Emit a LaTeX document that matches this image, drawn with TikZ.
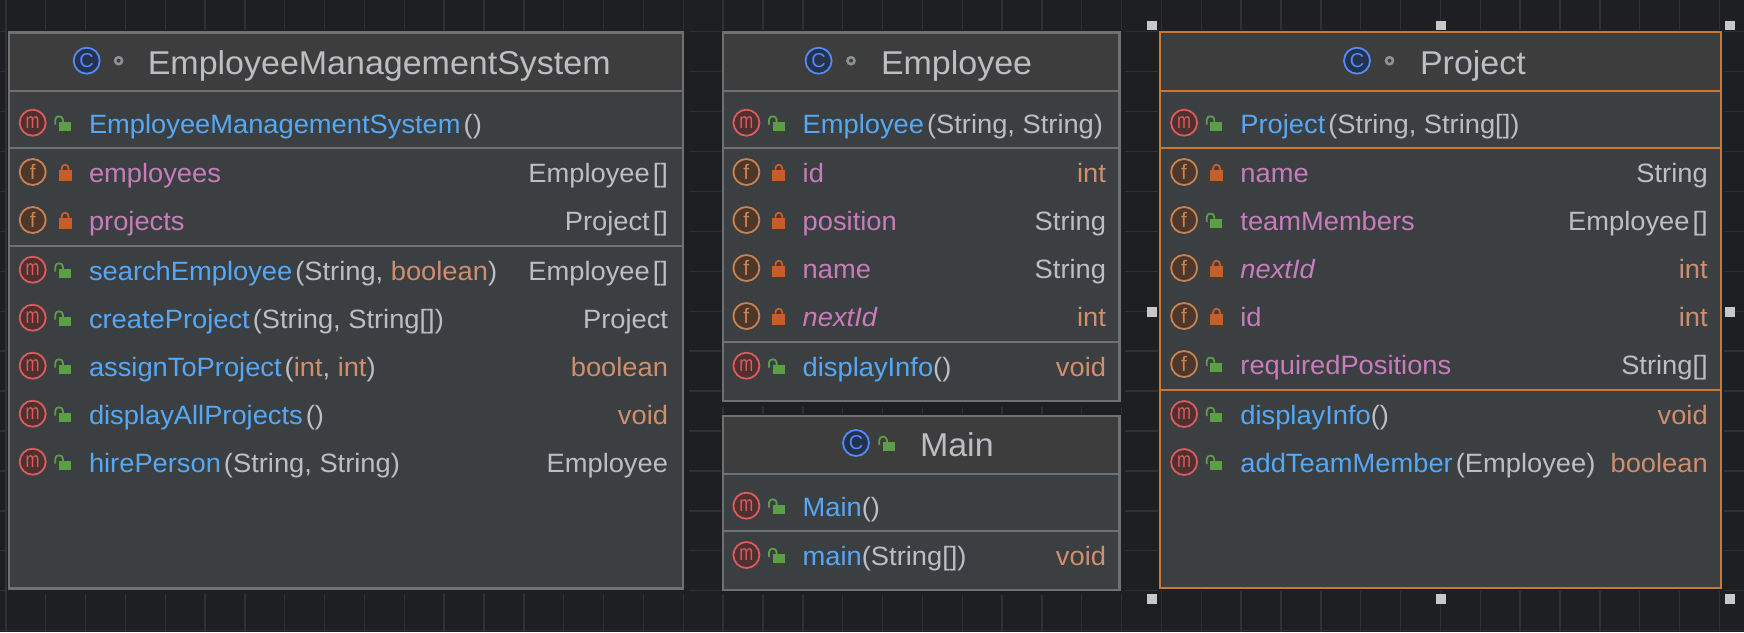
\documentclass[tikz,border=0pt]{standalone}
\usepackage{fontspec}
\usepackage{graphicx}
\setmainfont[FakeStretch=1.03]{Liberation Sans}
\newfontfamily\iconfont{Liberation Sans}
\definecolor{bgdark}{HTML}{1E1F22}
\definecolor{gridline}{HTML}{2F3033}
\definecolor{bodyfill}{HTML}{3C3F41}
\definecolor{headfill}{HTML}{3D3D3D}
\definecolor{edgegray}{HTML}{6F7072}
\definecolor{edgeorange}{HTML}{C87A32}
\definecolor{nameblue}{HTML}{56A8F5}
\definecolor{fieldpink}{HTML}{C77DBB}
\definecolor{kworange}{HTML}{CF8E6D}
\definecolor{typegray}{HTML}{BCBEC4}
\definecolor{handlegray}{HTML}{C8C8C8}
\definecolor{lockgreen}{HTML}{5A9E45}
\definecolor{lockorange}{HTML}{C75E28}
\definecolor{dotgray}{HTML}{8A9296}
\definecolor{mstroke}{HTML}{DB5C5C}
\definecolor{mfill}{HTML}{4F2F2F}
\definecolor{fstroke}{HTML}{C78354}
\definecolor{ffill}{HTML}{4D362A}
\definecolor{cstroke}{HTML}{548AF7}
\definecolor{cfill}{HTML}{25324D}
\newcommand{\rowfont}{\fontsize{26.5}{30}\selectfont}
\newcommand{\headfont}{\fontsize{33}{38}\selectfont}
\newcommand{\kw}[1]{\textcolor{kworange}{#1}}
\newcommand{\nm}[1]{\textcolor{nameblue}{#1}}
\newcommand{\gp}{\hspace{3pt}}
\tikzset{
  x=1pt,y=-1pt,
  gridrule/.style={draw=gridline,line width=1.4pt},
  halo/.style={fill=bgdark,draw=none},
  boxbody/.style={draw=edgegray,fill=bodyfill,line width=2.4pt,rectangle,anchor=north west,inner sep=0pt,outer sep=0pt},
  boxhead/.style={draw=edgegray,fill=headfill,line width=2.4pt,rectangle,anchor=north west,inner sep=0pt,outer sep=0pt},
  chosen/.style={draw=edgeorange,line width=2pt},
  sep/.style={draw=edgegray,line width=2.4pt},
  sepchosen/.style={draw=edgeorange,line width=2pt},
  rowleft/.style={anchor=base west,inner sep=0pt,outer sep=0pt,font=\rowfont,text=typegray},
  rowright/.style={anchor=base east,inner sep=0pt,outer sep=0pt,font=\rowfont,text=typegray},
  headtext/.style={anchor=base west,inner sep=0pt,outer sep=0pt,font=\headfont,text=typegray},
  badge/.style={circle,inner sep=0pt,outer sep=0pt,minimum size=26pt,line width=1.8pt},
  badgem/.style={badge,draw=mstroke,fill=mfill,text=mstroke},
  badgef/.style={badge,draw=fstroke,fill=ffill,text=fstroke},
  badgec/.style={badge,draw=cstroke,fill=cfill,text=cstroke},
  handle/.style={fill=handlegray,draw=none,rectangle,minimum size=9.6pt,inner sep=0pt,outer sep=0pt},
  pkgdot/.style={circle,draw=dotgray,fill=headfill,line width=2.6pt,minimum size=7pt,inner sep=0pt,outer sep=0pt}
}
\newcommand{\greenlock}[2]{%
  \begin{scope}[shift={(#1,#2)}]
    \fill[lockgreen] (3.5,-1) rectangle (15.5,8.2);
    \draw[lockgreen,line width=1.8pt] (0,2) -- (0,-3) .. controls (0,-7.5) and (7.6,-7.5) .. (7.6,-3) -- (7.6,0);
  \end{scope}}
\newcommand{\orangelock}[2]{%
  \begin{scope}[shift={(#1,#2)}]
    \fill[lockorange] (0,-2) rectangle (12.8,8.7);
    \draw[lockorange,line width=1.8pt] (3,-1) -- (3,-3.5) .. controls (3,-8.6) and (9.8,-8.6) .. (9.8,-3.5) -- (9.8,-1);
  \end{scope}}
\newcommand{\mbadge}[3]{\node[badgem] (#1) at (#2,#3) {\iconfont\fontsize{22}{22}\selectfont\scalebox{0.76}[1]{m}};}
\newcommand{\fbadge}[3]{\node[badgef] (#1) at (#2,#3) {\iconfont\fontsize{21}{21}\selectfont f};}
\newcommand{\cbadge}[3]{\node[badgec] (#1) at (#2,#3) {\iconfont\fontsize{20}{20}\selectfont C};}
% id, lock g/o, y, left text, right text
\newcommand{\rowm}[5]{%
  \mbadge{#1-b}{\curL+23.7}{#3}%
  \ifx g#2\relax\greenlock{\curL+46.3}{#3}\else\orangelock{\curL+49.7}{#3}\fi
  \node[rowleft] (#1-n) at (\curL+80,#3+10.7) {#4};
  \node[rowright] (#1-t) at (\curR,#3+10.7) {#5};}
\newcommand{\rowf}[5]{%
  \fbadge{#1-b}{\curL+23.7}{#3}%
  \ifx g#2\relax\greenlock{\curL+46.3}{#3}\else\orangelock{\curL+49.7}{#3}\fi
  \node[rowleft] (#1-n) at (\curL+80,#3+10.7) {#4};
  \node[rowright] (#1-t) at (\curR,#3+10.7) {#5};}
\begin{document}
\begin{tikzpicture}
\useasboundingbox (0,0) rectangle (1744,632);
\fill[bgdark] (0,0) rectangle (1744,632);
% grid
\foreach \k in {0,...,43}{\draw[gridrule] (5.8+39.85*\k,0) -- (5.8+39.85*\k,632);}
\foreach \k in {0,...,15}{\draw[gridrule] (0,31.7+39.93*\k) -- (1744,31.7+39.93*\k);}
% shadows
\fill[halo] (7,30) rectangle (688.5,594);
\fill[halo] (720.5,30) rectangle (1124.5,407);
\fill[halo] (720.5,414) rectangle (1124.5,595);
\fill[halo] (1158,30) rectangle (1724,591);
% EmployeeManagementSystem
\def\curL{9}\def\curR{668}
\node[boxbody,minimum width=673.7pt,minimum height=556.3pt] (ems) at (9,32.3) {};
\node[boxhead,minimum width=673.7pt,minimum height=58.4pt] (emshead) at (9,32.3) {};
\draw[sep] (ems.west |- 0,147.7) -- (ems.east |- 0,147.7);
\draw[sep] (ems.west |- 0,245.7) -- (ems.east |- 0,245.7);
\cbadge{emsC}{86.7}{60.7}
\node[pkgdot] (emsD) at (118.6,60.7) {};
\node[headtext] (emsT) at (147.8,74) {EmployeeManagementSystem};
\rowm{e1}{g}{122.7}{\nm{EmployeeManagementSystem}\gp()}{}
\rowf{e2}{o}{172}{\textcolor{fieldpink}{employees}}{Employee\gp[]}
\rowf{e3}{o}{220}{\textcolor{fieldpink}{projects}}{Project\gp[]}
\rowm{e4}{g}{269.7}{\nm{searchEmployee}\gp(String, \kw{boolean})}{Employee\gp[]}
\rowm{e5}{g}{317.7}{\nm{createProject}\gp(String, String[])}{Project}
\rowm{e6}{g}{365.7}{\nm{assignToProject}\gp(\kw{int}, \kw{int})}{\kw{boolean}}
\rowm{e7}{g}{413.7}{\nm{displayAllProjects}\gp()}{\kw{void}}
\rowm{e8}{g}{461.7}{\nm{hirePerson}\gp(String, String)}{Employee}
% Employee
\def\curL{722.7}\def\curR{1106}
\node[boxbody,minimum width=396.6pt,minimum height=368.7pt] (emp) at (722.7,32.3) {};
\node[boxhead,minimum width=396.6pt,minimum height=58.4pt] (emphead) at (722.7,32.3) {};
\draw[sep] (emp.west |- 0,147.7) -- (emp.east |- 0,147.7);
\draw[sep] (emp.west |- 0,342) -- (emp.east |- 0,342);
\cbadge{empC}{818.6}{60.7}
\node[pkgdot] (empD) at (851,60.7) {};
\node[headtext] (empT) at (881,74) {Employee};
\rowm{p1}{g}{122.7}{\nm{Employee}\gp(String, String)}{}
\rowf{p2}{o}{172}{\textcolor{fieldpink}{id}}{\kw{int}}
\rowf{p3}{o}{220}{\textcolor{fieldpink}{position}}{String}
\rowf{p4}{o}{268}{\textcolor{fieldpink}{name}}{String}
\rowf{p5}{o}{316}{\textcolor{fieldpink}{\itshape nextId}}{\kw{int}}
\rowm{p6}{g}{365.7}{\nm{displayInfo}()}{\kw{void}}
% Main
\node[boxbody,minimum width=396.6pt,minimum height=174pt] (mainb) at (722.7,416) {};
\node[boxhead,minimum width=396.6pt,minimum height=57.7pt] (mainhead) at (722.7,416) {};
\draw[sep] (mainb.west |- 0,530.7) -- (mainb.east |- 0,530.7);
\cbadge{mainC}{856}{443}
\greenlock{879.3}{443}
\node[headtext] (mainT) at (920,456.7) {Main};
\rowm{a1}{g}{505.7}{\nm{Main}()}{}
\rowm{a2}{g}{555}{\nm{main}(String[])}{\kw{void}}
% Project
\def\curL{1160.4}\def\curR{1707.7}
\node[boxbody,chosen,minimum width=560.6pt,minimum height=555.7pt] (prj) at (1160.4,32.3) {};
\node[boxhead,chosen,minimum width=560.6pt,minimum height=58.4pt] (prjhead) at (1160.4,32.3) {};
\draw[sepchosen] (prj.west |- 0,147.7) -- (prj.east |- 0,147.7);
\draw[sepchosen] (prj.west |- 0,390) -- (prj.east |- 0,390);
\cbadge{prjC}{1357}{60.7}
\node[pkgdot] (prjD) at (1389.5,60.7) {};
\node[headtext] (prjT) at (1420,74) {Project};
\rowm{j1}{g}{122.7}{\nm{Project}\gp(String, String[])}{}
\rowf{j2}{o}{172}{\textcolor{fieldpink}{name}}{String}
\rowf{j3}{g}{220}{\textcolor{fieldpink}{teamMembers}}{Employee\gp[]}
\rowf{j4}{o}{268}{\textcolor{fieldpink}{\itshape nextId}}{\kw{int}}
\rowf{j5}{o}{316}{\textcolor{fieldpink}{id}}{\kw{int}}
\rowf{j6}{g}{364}{\textcolor{fieldpink}{requiredPositions}}{String[]}
\rowm{j7}{g}{414}{\nm{displayInfo}()}{\kw{void}}
\rowm{j8}{g}{462}{\nm{addTeamMember}\gp(Employee)}{\kw{boolean}}
% selection handles
\node[handle] (h1) at (1152,25.3) {};
\node[handle] (h2) at (1441,25.3) {};
\node[handle] (h3) at (1730,25.3) {};
\node[handle] (h4) at (1152,311.7) {};
\node[handle] (h5) at (1730,311.7) {};
\node[handle] (h6) at (1152,598.7) {};
\node[handle] (h7) at (1441,598.7) {};
\node[handle] (h8) at (1730,598.7) {};
\end{tikzpicture}
\end{document}
